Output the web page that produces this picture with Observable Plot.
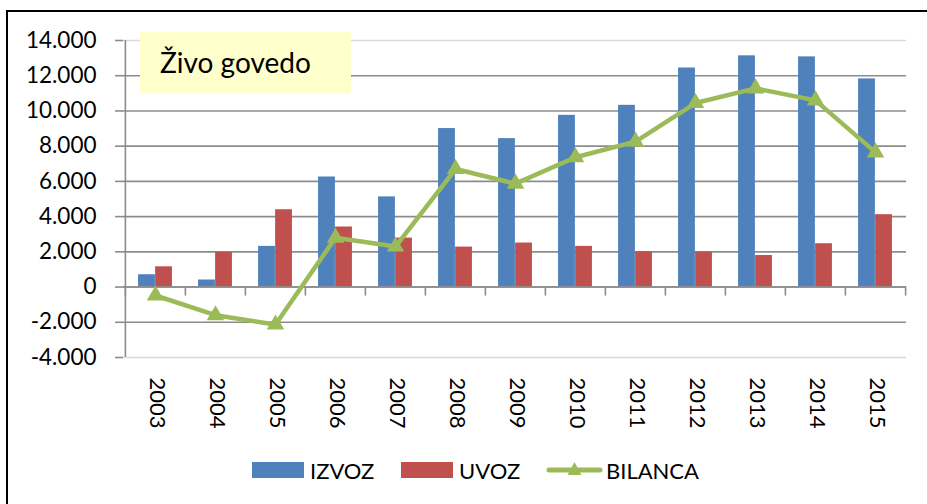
<!DOCTYPE html>
<html><head><meta charset="utf-8">
<script src="https://cdn.jsdelivr.net/npm/d3@7"></script>
<script src="https://cdn.jsdelivr.net/npm/@observablehq/plot@0.6"></script>
<style>
html,body{margin:0;padding:0;background:#fff;overflow:hidden;width:927px;height:504px}
#wrap{position:relative;width:927px;height:504px;font-family:Lato,sans-serif;color:#000;overflow:hidden}
#frame{position:absolute;left:6px;top:10px;width:1000px;height:600px;border:2.5px solid #000;box-sizing:border-box}
#chart{position:absolute;left:0;top:0}
#title{position:absolute;left:140px;top:32px;width:211px;height:61px;background:#FFFFCC;font-size:28px;line-height:61px;padding-left:20px;box-sizing:border-box;white-space:nowrap}
.leg{position:absolute;top:458px;height:24px;display:flex;align-items:center;font-size:22px;white-space:nowrap}
.sw{display:inline-block;width:52px;height:16px;margin-right:6px}
</style>
</head><body>
<div id="wrap">
  <div id="frame"></div>
  <div id="chart"></div>
  <div id="title">Živo govedo</div>
  <div class="leg" style="left:252px"><span class="sw" style="background:#4F81BD"></span>IZVOZ</div>
  <div class="leg" style="left:401px"><span class="sw" style="background:#C0504D"></span>UVOZ</div>
  <div class="leg" style="left:546px"><svg width="57" height="16" style="margin-right:3px"><line x1="3" y1="8" x2="54" y2="8" stroke="#9BBB59" stroke-width="5" stroke-linecap="round"/><path d="M28.5,0 L35.5,13 L21.5,13 Z" fill="#9BBB59"/></svg>BILANCA</div>
</div>
<script>
const years = ["2003","2004","2005","2006","2007","2008","2009","2010","2011","2012","2013","2014","2015"];
const izvoz = [700,400,2310,6250,5120,9000,8430,9750,10320,12440,13130,13070,11820];
const uvoz = [1150,1970,4390,3410,2780,2270,2500,2310,2000,1990,1790,2460,4110];
const bilanca = [-480,-1600,-2130,2800,2300,6700,5870,7370,8260,10450,11280,10600,7650];
const yTicks = [-4000,-2000,0,2000,4000,6000,8000,10000,12000,14000];

const data = years.map((y,i)=>({year:y, izvoz:izvoz[i], uvoz:uvoz[i], bilanca:bilanca[i]}));
const W=927, H=504, ML=123, MR=21, MT=40, MB=147;
const bw = (W-ML-MR)/years.length;
const barW = bw*0.283;
const grid = "#8c8c8c";
const fmt = v => (v<0?"-":"") + d3.format(",")(Math.abs(v)).replace(/,/g,".");

const chart = Plot.plot({
  width:W, height:H, marginLeft:ML, marginRight:MR, marginTop:MT, marginBottom:MB,
  style:{fontFamily:"Lato, sans-serif", fontSize:"22px", color:"#000", background:"transparent", overflow:"visible"},
  x:{type:"band", domain:years, padding:0, axis:null},
  y:{domain:[-4000,14000], axis:null},
  marks:[
    Plot.ruleY(yTicks.filter(v=>v>-4000 && v<14000), {stroke:grid, strokeWidth:1.6}),
    Plot.ruleY([-4000,14000], {stroke:"#d9d9d9", strokeWidth:1.6}),
    Plot.barY(data, {x:"year", y:"izvoz", fill:"#4F81BD", insetLeft:bw/2-barW, insetRight:bw/2}),
    Plot.barY(data, {x:"year", y:"uvoz", fill:"#C0504D", insetLeft:bw/2, insetRight:bw/2-barW}),
    Plot.ruleY([0], {stroke:grid, strokeWidth:1.6}),
    Plot.ruleX(years, {x:d=>d, y1:0, y2:0, dx:-bw/2, insetBottom:-9, stroke:grid, strokeWidth:1.6}),
    Plot.ruleX([years[years.length-1]], {x:d=>d, y1:0, y2:0, dx:bw/2, insetBottom:-9, stroke:grid, strokeWidth:1.6}),
    Plot.ruleX([years[0]], {x:d=>d, dx:-bw/2, stroke:grid, strokeWidth:1.6}),
    Plot.axisY({ticks:yTicks, tickSize:8, tickPadding:19, tickFormat:fmt, stroke:grid, strokeWidth:1.6, label:null, fontSize:22.5}),
    Plot.text(years, {x:d=>d, text:d=>d, frameAnchor:"bottom", dx:-6, dy:20, rotate:90, textAnchor:"start", fontSize:22}),
    Plot.line(data, {x:"year", y:"bilanca", stroke:"#9BBB59", strokeWidth:4.5}),
    Plot.dot(data, {x:"year", y:"bilanca", symbol:"triangle", r:6.5, fill:"#9BBB59", stroke:"none"})
  ]
});
document.getElementById("chart").appendChild(chart);
</script>
</body></html>
